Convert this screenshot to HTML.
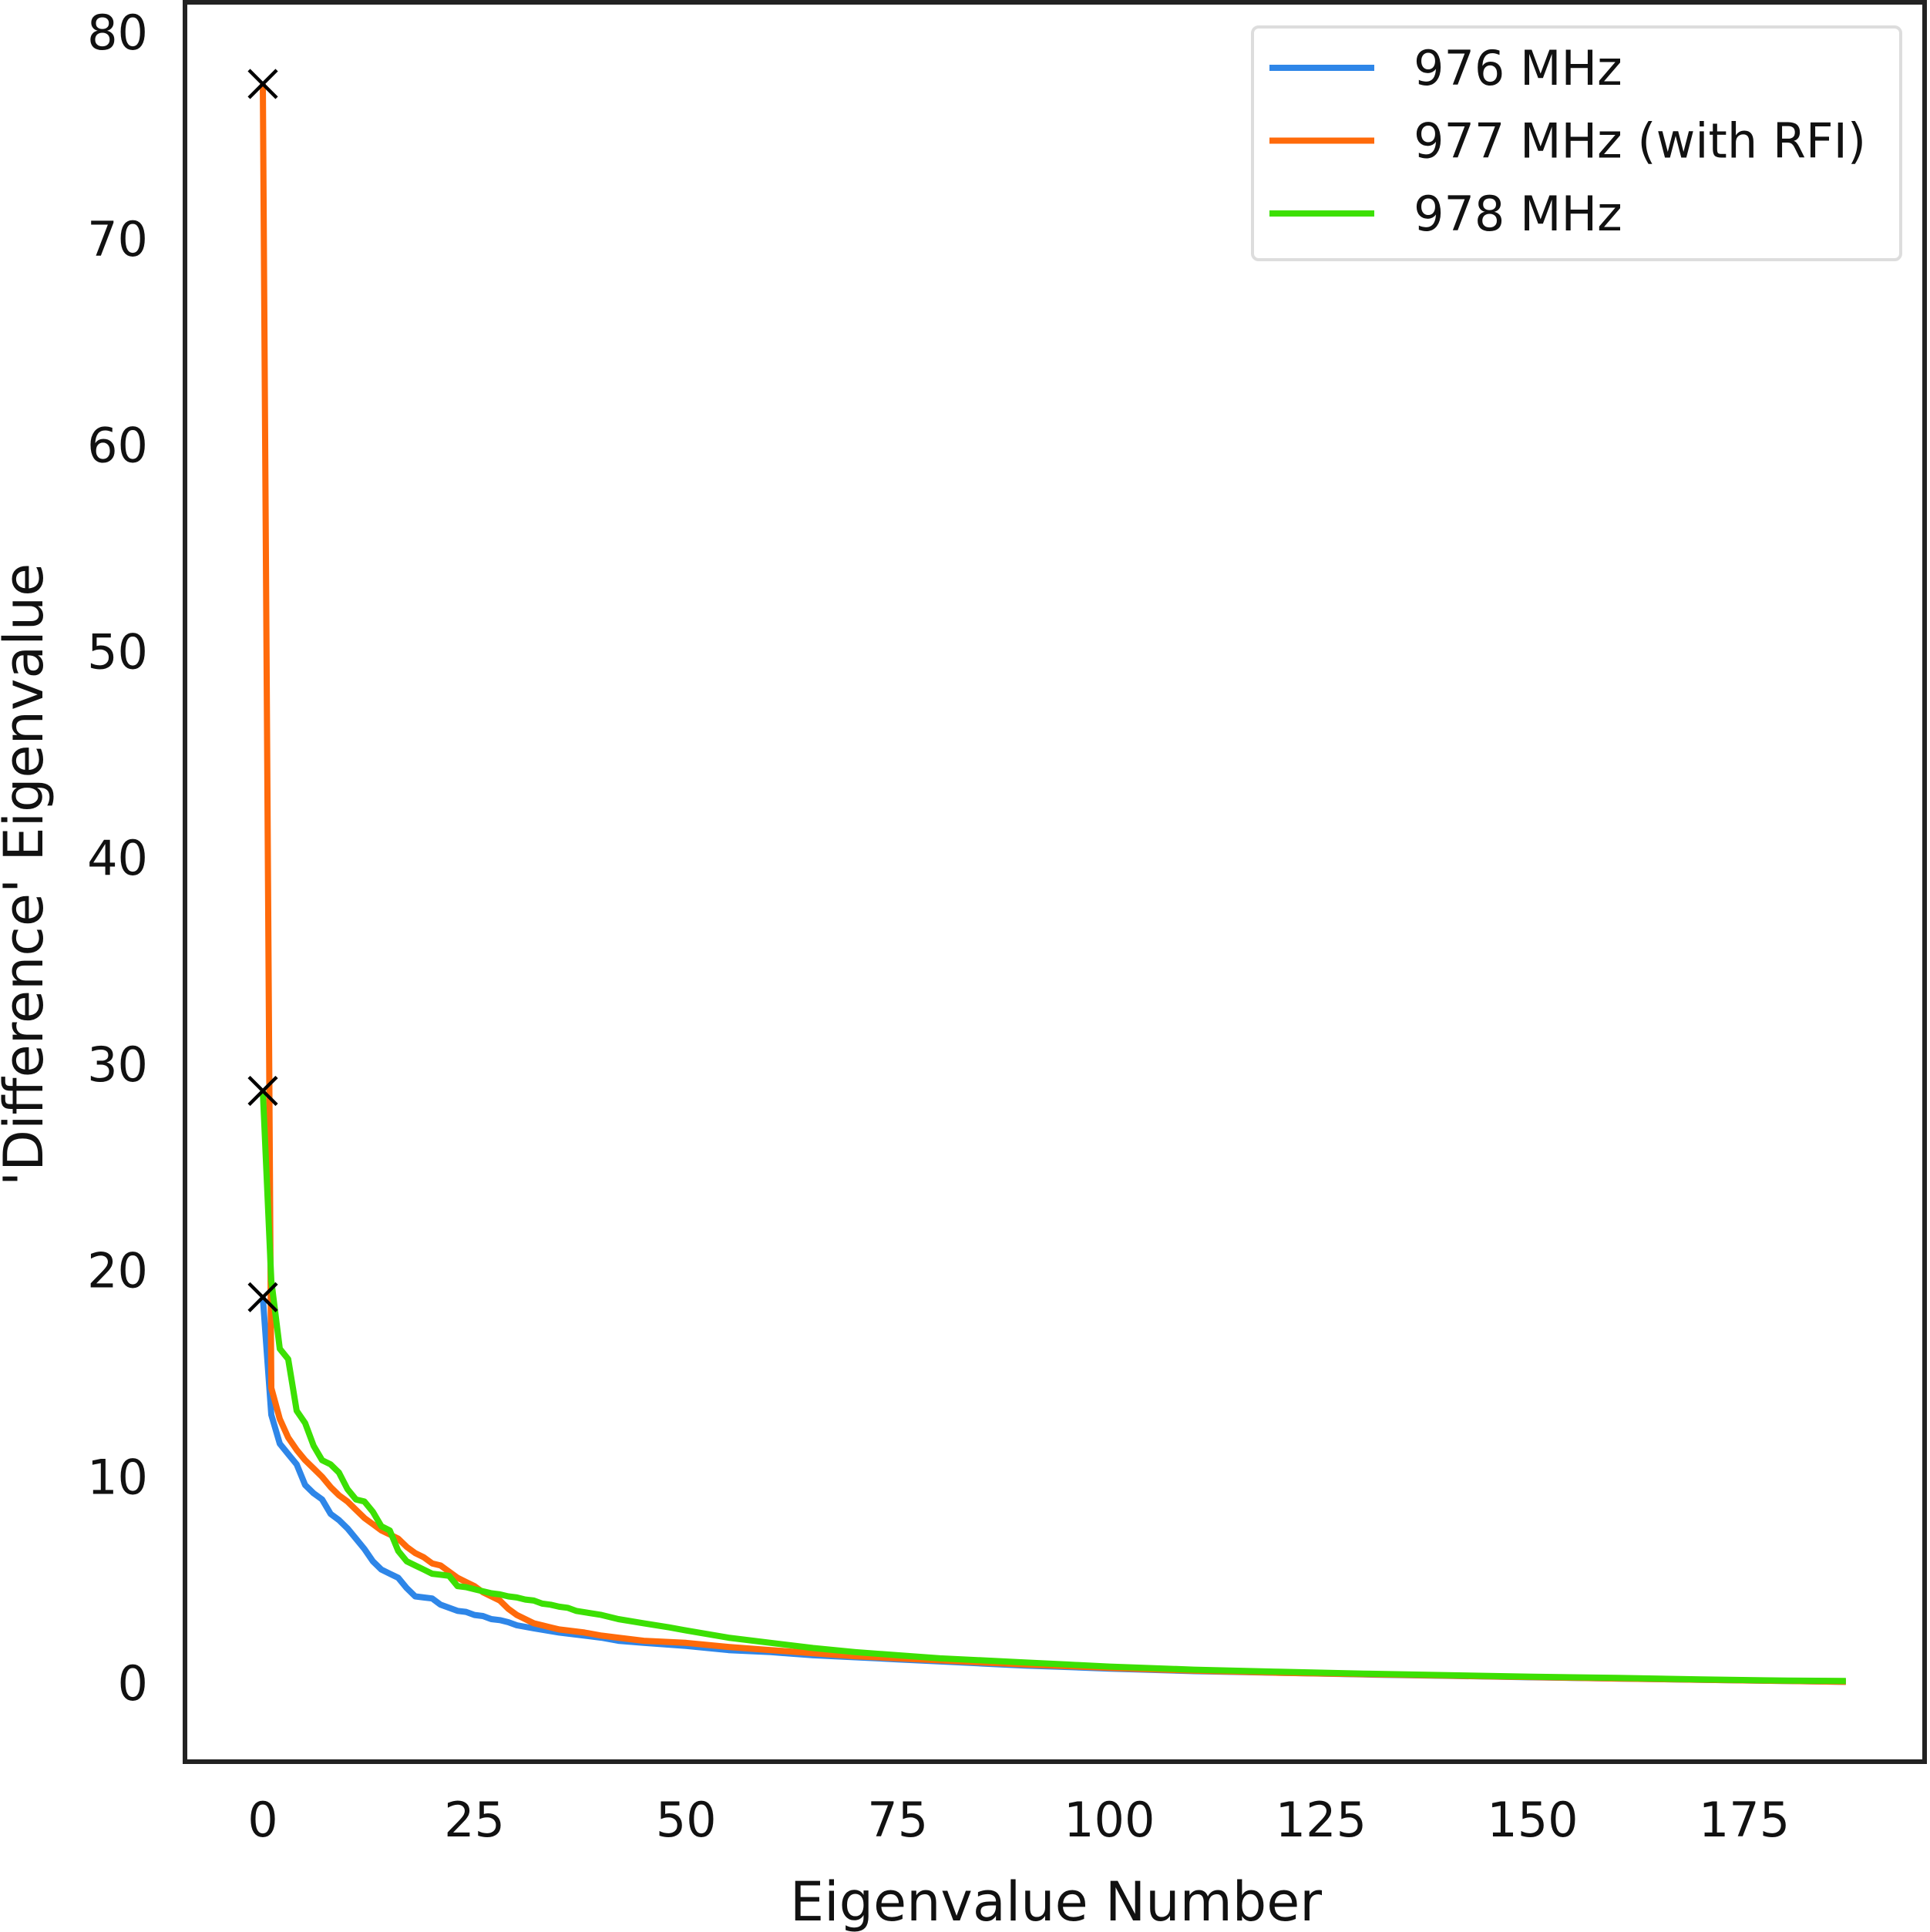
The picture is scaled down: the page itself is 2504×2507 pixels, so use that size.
<!DOCTYPE html>
<html><head><meta charset="utf-8"><style>
html,body{margin:0;padding:0;background:#fff;}
svg{display:block;font-family:"DejaVu Sans","Liberation Sans",sans-serif;}
</style></head><body>
<svg id="chart" width="2504" height="2507" viewBox="0 0 2504 2507">
<rect x="0" y="0" width="2504" height="2507" fill="#fff"/>
<g id="plot"></g>
<g id="axes"></g>
</svg>
<script>
const xTicks = [0, 25, 50, 75, 100, 125, 150, 175];
const yTicks = [0, 10, 20, 30, 40, 50, 60, 70, 80];
const seriesNames = ["976 MHz", "977 MHz (with RFI)", "978 MHz"];
const idxBlue = [0,1,2,3,4,5,6,7,8,9,10,11,12,13,14,15,16,17,18,19,20,21,22,23,24,25,26,27,28,29,30,32,35,38,40,42,45,50,55,60,65,70,75,80,85,90,95,100,110,120,130,140,150,160,170,180,187];
const valBlue = [18.7,13.0,11.6,11.1,10.6,9.6,9.2,8.9,8.2,7.9,7.5,7.0,6.5,5.9,5.5,5.3,5.1,4.6,4.2,4.15,4.1,3.8,3.65,3.5,3.45,3.3,3.25,3.1,3.05,2.95,2.8,2.65,2.45,2.3,2.2,2.05,1.95,1.8,1.6,1.5,1.35,1.25,1.15,1.05,0.95,0.85,0.78,0.7,0.58,0.5,0.42,0.35,0.28,0.22,0.16,0.1,0.06];
const idxOrange = [0,1,2,3,4,5,6,7,8,9,10,11,12,13,14,15,16,17,18,19,20,21,22,23,24,25,26,27,28,29,30,31,32,33,34,35,38,40,42,45,50,55,60,65,70,75,80,85,90,95,100,110,120,130,140,150,160,170,180,187];
const valOrange = [77.5,14.3,12.8,11.9,11.3,10.8,10.4,10.0,9.5,9.1,8.8,8.4,8.0,7.7,7.4,7.2,7.0,6.6,6.3,6.1,5.8,5.7,5.4,5.1,4.9,4.7,4.4,4.2,4.0,3.6,3.3,3.1,2.9,2.8,2.7,2.6,2.45,2.3,2.2,2.05,1.95,1.75,1.6,1.45,1.3,1.2,1.1,1.0,0.9,0.82,0.74,0.6,0.5,0.43,0.36,0.29,0.22,0.16,0.1,0.06];
const idxGreen = [0,1,2,3,4,5,6,7,8,9,10,11,12,13,14,15,16,17,18,19,20,21,22,23,24,25,26,27,28,29,30,31,32,33,34,35,36,37,40,42,45,48,50,55,60,65,70,75,80,85,90,95,100,110,120,130,140,150,160,170,180,187];
const valGreen = [28.7,19.5,16.2,15.7,13.2,12.6,11.5,10.8,10.6,10.2,9.4,8.9,8.8,8.3,7.6,7.4,6.4,5.9,5.7,5.5,5.3,5.25,5.2,4.7,4.65,4.55,4.45,4.35,4.3,4.2,4.15,4.05,4.0,3.85,3.8,3.7,3.65,3.5,3.3,3.1,2.9,2.7,2.55,2.2,1.95,1.7,1.5,1.35,1.2,1.1,1.0,0.9,0.8,0.65,0.55,0.46,0.38,0.31,0.25,0.18,0.12,0.1];
const markerVals = [77.5, 28.7, 18.7];

const NS = "http://www.w3.org/2000/svg";
const L = 240, R = 2497, T = 3, B = 2286;
function xs(i){ return 341 + (2263 - 341) * i / 175; }
function ys(v){ return 2184 - (2184 - 42) * v / 80; }
const plot = document.getElementById('plot');
const axes = document.getElementById('axes');
function mk(tag, attrs, parent){ const e = document.createElementNS(NS, tag); for (const k in attrs) e.setAttribute(k, attrs[k]); parent.appendChild(e); return e; }

const series = [[idxBlue, valBlue, "#2e86e8", "series-976-mhz"], [idxOrange, valOrange, "#ff6a0a", "series-977-mhz"], [idxGreen, valGreen, "#3ce003", "series-978-mhz"]];
series.forEach(s => {
  const pts = s[0].map((i, k) => xs(i).toFixed(1) + "," + ys(s[1][k]).toFixed(1)).join(" ");
  const p = mk('polyline', {points: pts, fill: "none", stroke: s[2], "stroke-width": 8, "stroke-linejoin": "round"}, plot);
  
  
});
markerVals.forEach(v => {
  const cx = xs(0), cy = ys(v), d = 18;
  const m = mk('path', {d: `M${cx-d},${cy-d}L${cx+d},${cy+d}M${cx-d},${cy+d}L${cx+d},${cy-d}`, stroke: "#000", "stroke-width": 4.5, fill: "none"}, plot);
  
  
});

const frame = mk('rect', {x: L, y: T, width: R - L, height: B - T, fill: "none", stroke: "#222", "stroke-width": 6}, axes);


xTicks.forEach(t => {
  const e = mk('text', {x: xs(t), y: 2383, "text-anchor": "middle", "font-size": 62, fill: "#111"}, axes);
  e.textContent = t;
  
  
});
yTicks.forEach(t => {
  const e = mk('text', {x: 192, y: ys(t) + 22, "text-anchor": "end", "font-size": 62, fill: "#111"}, axes);
  e.textContent = t;
  
  
});
const xt = mk('text', {x: 1370, y: 2492, "text-anchor": "middle", "font-size": 70, fill: "#111"}, axes);
xt.textContent = "Eigenvalue Number";


const yt = mk('text', {x: 0, y: 0, "text-anchor": "middle", "font-size": 70, fill: "#111", transform: "translate(55,1135) rotate(-90)"}, axes);
yt.textContent = "'Difference' Eigenvalue";



const leg = mk('g', {}, axes);


const lb = mk('rect', {x: 1625, y: 35, width: 841, height: 302, rx: 8, fill: "#fff", stroke: "#ddd", "stroke-width": 4}, leg);


seriesNames.forEach((n, k) => {
  const y = 88 + k * 94.5;
  const ln = mk('line', {x1: 1647, x2: 1783, y1: y, y2: y, stroke: series[k][2], "stroke-width": 8}, leg);
  
  
  const tx = mk('text', {x: 1834, y: y + 22, "font-size": 62, fill: "#111"}, leg);
  tx.textContent = n;
  
  
});
</script>
</body></html>
